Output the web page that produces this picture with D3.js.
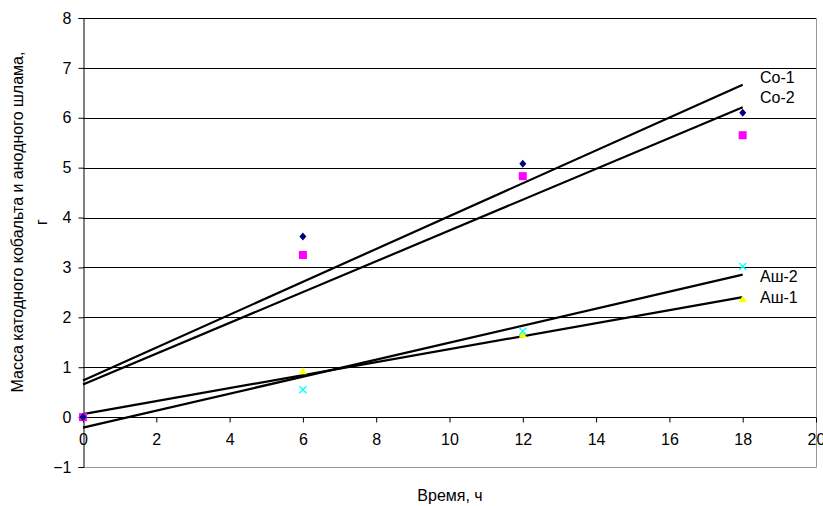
<!DOCTYPE html>
<html>
<head>
<meta charset="utf-8">
<script src="https://cdn.jsdelivr.net/npm/d3@7"></script>
<style>
  body { margin: 0; background: #fff; }
  text { font-family: "Liberation Sans", Arial, sans-serif; }
</style>
</head>
<body>
<div id="chart"></div>
<script>
// ---- data ----
const hours = [0, 6, 12, 18];
const co1 = [0, 3.62, 5.08, 6.10];
const co2 = [0, 3.25, 4.83, 5.65];
const ash2 = [0, 0.55, 1.72, 3.02];
const ash1 = [0, 0.92, 1.65, 2.36];
const xTicks = [0, 2, 4, 6, 8, 10, 12, 14, 16, 18, 20];
const yTicks = [-1, 0, 1, 2, 3, 4, 5, 6, 7, 8];

const series = [
  { name: "Co-1", values: co1, symbol: "diamond", color: "#000080", labelY: 77 },
  { name: "Co-2", values: co2, symbol: "square", color: "#FF00FF", labelY: 97 },
  { name: "Аш-2", values: ash2, symbol: "cross", color: "#00FFFF", labelY: 276 },
  { name: "Аш-1", values: ash1, symbol: "triangle", color: "#FFFF00", labelY: 297 }
];

const width = 823, height = 506;
const plot = { left: 83, right: 816, top: 18, bottom: 467 };
const fontSize = 16;

const x = d3.scaleLinear().domain([0, 20]).range([plot.left, plot.right]);
const y = d3.scaleLinear().domain([-1, 8]).range([plot.bottom, plot.top]);

const svg = d3.select("#chart").append("svg")
  .attr("width", width)
  .attr("height", height);

// gridlines
svg.append("g")
  .selectAll("line")
  .data(yTicks.filter(d => d !== 0 && d !== -1))
  .join("line")
  .attr("x1", plot.left).attr("x2", plot.right)
  .attr("y1", d => Math.round(y(d)) + 0.5).attr("y2", d => Math.round(y(d)) + 0.5)
  .attr("stroke", "#000")
  .attr("stroke-width", 1);

// plot area border (bottom + right)
svg.append("path")
  .attr("d", `M${plot.left},${plot.bottom + 0.5}H${plot.right + 0.5}V${plot.top}`)
  .attr("fill", "none")
  .attr("stroke", "#999");

// y axis
const yAxis = d3.axisLeft(y).tickValues(yTicks).tickSize(5).tickPadding(7)
  .tickFormat(d3.format("d"));
svg.append("g")
  .attr("transform", `translate(${plot.left + 0.5},0)`)
  .call(yAxis)
  .call(g => g.selectAll("text").attr("font-size", fontSize).attr("fill", "#000")
    .attr("font-family", "Liberation Sans, Arial, sans-serif"))
  .call(g => g.selectAll("line, path").attr("stroke", "#000"));

// x axis crossing at y = 0
const xAxis = d3.axisBottom(x).tickValues(xTicks).tickSize(5).tickPadding(11)
  .tickFormat(d3.format("d"));
svg.append("g")
  .attr("transform", `translate(0,${Math.round(y(0)) + 0.5})`)
  .call(xAxis)
  .call(g => g.select(".domain").attr("d", `M${plot.left},0H${plot.right}`))
  .call(g => g.selectAll("text").attr("font-size", fontSize).attr("fill", "#000")
    .attr("font-family", "Liberation Sans, Arial, sans-serif"))
  .call(g => g.selectAll("line, path").attr("stroke", "#000"));

// linear trendlines (least squares from the points)
const fit = vals => {
  const mx = d3.mean(hours), my = d3.mean(vals);
  const slope = d3.sum(hours, (h, i) => (h - mx) * (vals[i] - my)) /
    d3.sum(hours, h => (h - mx) * (h - mx));
  return { slope, icept: my - slope * mx };
};

series.forEach(s => {
  const f = fit(s.values);
  const x0 = hours[0], x1 = hours[hours.length - 1];
  svg.append("line")
    .attr("x1", x(x0)).attr("y1", y(f.icept + f.slope * x0))
    .attr("x2", x(x1)).attr("y2", y(f.icept + f.slope * x1))
    .attr("stroke", "#000")
    .attr("stroke-width", 2.2);
});

// marker shapes
const markerPath = (type, px, py) => {
  if (type === "diamond") return `M${px},${py - 4}L${px + 3.5},${py}L${px},${py + 4}L${px - 3.5},${py}Z`;
  if (type === "square") return `M${px - 4},${py - 4}h8v8h-8Z`;
  if (type === "triangle") return `M${px},${py - 4}L${px + 4},${py + 3}L${px - 4},${py + 3}Z`;
  return `M${px - 3.5},${py - 3.5}L${px + 3.5},${py + 3.5}M${px - 3.5},${py + 3.5}L${px + 3.5},${py - 3.5}`;
};

series.slice().reverse().forEach(s => {
  svg.append("g")
    .selectAll("path")
    .data(s.values)
    .join("path")
    .attr("d", (v, i) => markerPath(s.symbol, x(hours[i]), y(v)))
    .attr("fill", s.symbol === "cross" ? "none" : s.color)
    .attr("stroke", s.symbol === "cross" ? s.color : "none")
    .attr("stroke-width", 1.3);
});

// series labels
svg.append("g")
  .selectAll("text")
  .data(series)
  .join("text")
  .attr("x", 760)
  .attr("y", d => d.labelY)
  .attr("dy", "0.35em")
  .attr("font-size", fontSize)
  .text(d => d.name);

// axis titles
svg.append("text")
  .attr("x", 450).attr("y", 495)
  .attr("dy", "0.35em")
  .attr("text-anchor", "middle")
  .attr("font-size", fontSize)
  .text("Время, ч");

const yTitle = svg.append("text")
  .attr("transform", "translate(17,222) rotate(-90)")
  .attr("text-anchor", "middle")
  .attr("font-size", fontSize);
yTitle.append("tspan").attr("x", 0).attr("dy", "0.35em")
  .text("Масса катодного кобальта и анодного шлама,");
yTitle.append("tspan").attr("x", 0).attr("dy", "1.55em").text("г");
</script>
</body>
</html>
